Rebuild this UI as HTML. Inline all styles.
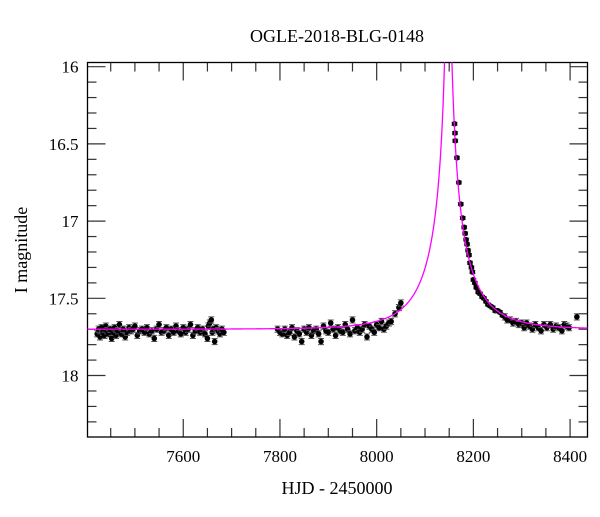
<!DOCTYPE html>
<html><head><meta charset="utf-8"><style>
body{margin:0;background:#fff}
svg text{font-family:"Liberation Serif",serif;fill:#000}
</style></head><body>
<svg id="chart" width="600" height="512" xmlns="http://www.w3.org/2000/svg">
<text x="337" y="42" font-size="18" text-anchor="middle">OGLE-2018-BLG-0148</text>
<text x="337" y="494" font-size="18" text-anchor="middle">HJD - 2450000</text>
<text transform="translate(27,250) rotate(-90)" font-size="18" text-anchor="middle">I magnitude</text>
<g id="ticks"></g>
<g id="model"></g>
<g id="points"></g>
<rect x="87.5" y="62.5" width="500" height="374.5" fill="none" stroke="#000" stroke-width="1.3"/>
</svg>
<script>
const xTicks=[7600,7800,8000,8200,8400];
const yTicks=[16,16.5,17,17.5,18];
const modelT0=8148, modelU0=0.03, modelTE=100, modelFs=0.35, modelBase=17.70;
const obsTimes=[7422,7425,7428,7431,7434,7437,7440,7443,7446,7449,7452,7455,7458,7461,7465,7468,7472,7476,7480,7484,7488,7492,7496,7500,7505,7510,7515,7520,7525,7530,7535,7540,7545,7550,7555,7560,7565,7570,7575,7580,7585,7590,7595,7600,7605,7610,7615,7620,7625,7630,7635,7640,7645,7650,7652,7655,7658,7660,7662,7665,7668,7672,7676,7680,7684,
7795,7800,7805,7810,7815,7820,7825,7830,7835,7840,7845,7850,7855,7860,7865,7870,7875,7880,7885,7890,7895,7900,7905,7910,7915,7920,7925,7930,7935,7940,7945,7950,7955,7960,7965,7970,7975,7980,7985,7990,7995,8000,8005,8010,8015,8020,8025,8030,8038,8046,8050,
8161,8162,8162.5,8166,8170,8174,8178,8181,8183,8185,8187,8189,8191,8193,8196,8198,8200,8203,8206,8210,8214,8218,8222,8226,8230,8235,8240,8245,8250,8255,8260,8265,8270,8276,8282,8288,8294,8300,8305,8310,8316,8322,8328,8334,8340,8346,8352,8359,8365,8371,8377,8383,8388,8393,8398,8414];
const obsMags=[17.73,17.70,17.75,17.69,17.72,17.74,17.68,17.71,17.73,17.70,17.76,17.72,17.69,17.74,17.71,17.67,17.73,17.70,17.75,17.72,17.69,17.71,17.70,17.68,17.74,17.71,17.70,17.72,17.69,17.73,17.71,17.76,17.70,17.67,17.72,17.71,17.69,17.74,17.70,17.72,17.68,17.71,17.73,17.69,17.72,17.70,17.67,17.74,17.71,17.69,17.72,17.70,17.73,17.76,17.68,17.66,17.64,17.72,17.70,17.78,17.69,17.71,17.73,17.70,17.72,
17.70,17.72,17.73,17.70,17.74,17.72,17.69,17.75,17.71,17.73,17.78,17.70,17.72,17.69,17.74,17.71,17.70,17.73,17.78,17.68,17.71,17.72,17.66,17.70,17.74,17.69,17.71,17.72,17.67,17.70,17.73,17.64,17.71,17.69,17.72,17.70,17.67,17.75,17.68,17.70,17.72,17.67,17.69,17.65,17.70,17.68,17.66,17.65,17.60,17.56,17.53,
16.37,16.43,16.48,16.59,16.75,16.89,16.98,17.04,17.08,17.12,17.15,17.19,17.22,17.27,17.30,17.33,17.38,17.40,17.43,17.46,17.47,17.49,17.50,17.52,17.54,17.55,17.56,17.58,17.58,17.59,17.61,17.62,17.64,17.64,17.66,17.65,17.67,17.66,17.69,17.66,17.68,17.70,17.67,17.69,17.71,17.67,17.69,17.67,17.70,17.68,17.69,17.71,17.67,17.68,17.69,17.62];
const obsErrs=[0.02,0.02,0.02,0.02,0.02,0.02,0.02,0.02,0.02,0.02,0.02,0.02,0.02,0.02,0.02,0.02,0.02,0.02,0.02,0.02,0.02,0.02,0.02,0.02,0.02,0.02,0.02,0.02,0.02,0.02,0.02,0.02,0.02,0.02,0.02,0.02,0.02,0.02,0.02,0.02,0.02,0.02,0.02,0.02,0.02,0.02,0.02,0.02,0.02,0.02,0.02,0.02,0.02,0.02,0.02,0.02,0.02,0.02,0.02,0.02,0.02,0.02,0.02,0.02,0.02,
0.02,0.02,0.02,0.02,0.02,0.02,0.02,0.02,0.02,0.02,0.02,0.02,0.02,0.02,0.02,0.02,0.02,0.02,0.02,0.02,0.02,0.02,0.02,0.02,0.02,0.02,0.02,0.02,0.02,0.02,0.02,0.02,0.02,0.02,0.02,0.02,0.02,0.02,0.02,0.02,0.02,0.02,0.02,0.02,0.02,0.02,0.02,0.02,0.02,0.02,0.02,
0.01,0.01,0.01,0.01,0.01,0.01,0.01,0.01,0.01,0.01,0.01,0.01,0.01,0.01,0.01,0.01,0.01,0.01,0.01,0.01,0.01,0.01,0.01,0.01,0.01,0.01,0.01,0.01,0.01,0.01,0.01,0.02,0.02,0.02,0.02,0.02,0.02,0.02,0.02,0.02,0.02,0.02,0.02,0.02,0.02,0.02,0.02,0.02,0.02,0.02,0.02,0.02,0.02,0.02,0.02,0.02];

const NS="http://www.w3.org/2000/svg";
const L=87.5,R=587.5,T=62.5,B=437;
const xMin=7402,xMax=8436,yMin=15.973,yMax=18.398;
const xs=v=>L+(v-xMin)/(xMax-xMin)*(R-L);
const ys=v=>T+(v-yMin)/(yMax-yMin)*(B-T);
function mk(tag,attrs,parent){const e=document.createElementNS(NS,tag);for(const k in attrs)e.setAttribute(k,attrs[k]);parent.appendChild(e);return e;}
const tg=document.getElementById('ticks');
for(let v=7450;v<=8400;v+=50){
  const x=xs(v),major=v%200===0,len=major?18:9;
  let a=mk('line',{x1:x,x2:x,y1:B,y2:B-len,stroke:'#333','stroke-width':1.2},tg);
  
  
  let b=mk('line',{x1:x,x2:x,y1:T,y2:T+len,stroke:'#333','stroke-width':1.2},tg);
  
  
}
xTicks.forEach(v=>{const t=mk('text',{x:xs(v),y:B+25,'font-size':17,'text-anchor':'middle'},tg);t.textContent=v;
  
  });
for(let i=0;i<=24;i++){
  const v=16+i*0.1;const y=ys(v);if(y<T||y>B)continue;
  const major=i%5===0,len=major?18:9;
  let a=mk('line',{x1:L,x2:L+len,y1:y,y2:y,stroke:'#333','stroke-width':1.2},tg);
  
  
  let b=mk('line',{x1:R,x2:R-len,y1:y,y2:y,stroke:'#333','stroke-width':1.2},tg);
  
  
}
yTicks.forEach(v=>{const t=mk('text',{x:L-9,y:ys(v)+6,'font-size':17,'text-anchor':'end'},tg);t.textContent=v;
  
  });
function modelMag(t){const tau=(t-modelT0)/modelTE;const u=Math.sqrt(tau*tau+modelU0*modelU0);
  const A=(u*u+2)/(u*Math.sqrt(u*u+4));return modelBase-2.5*Math.log10(modelFs*A+1-modelFs);}
let d='';for(let t=7402;t<=8436;t+=0.25){const y=Math.max(ys(modelMag(t)),T-5);d+=(d?'L':'M')+xs(t).toFixed(2)+' '+y.toFixed(2);}
const mg=document.getElementById('model');
mk('clipPath',{id:'clp'},mg);mk('rect',{x:L,y:T,width:R-L,height:B-T},mg.lastChild);
const path=mk('path',{d:d,fill:'none',stroke:'#ff00ff','stroke-width':1.3,'clip-path':'url(#clp)'},mg);


const pg=document.getElementById('points');
obsTimes.forEach((t,i)=>{
  const x=xs(t),y=ys(obsMags[i]),e=obsErrs[i];
  const g=mk('g',{},pg);
  
  
  const y1=ys(obsMags[i]-e),y2=ys(obsMags[i]+e);
  mk('path',{d:`M${x} ${y1}L${x} ${y2}M${x-3} ${y1}L${x+3} ${y1}M${x-3} ${y2}L${x+3} ${y2}`,stroke:'#555','stroke-width':1},g);
  mk('circle',{cx:x,cy:y,r:2.8,fill:'#000'},g);
});
pg.parentNode.appendChild(mg);
</script>
</body></html>
